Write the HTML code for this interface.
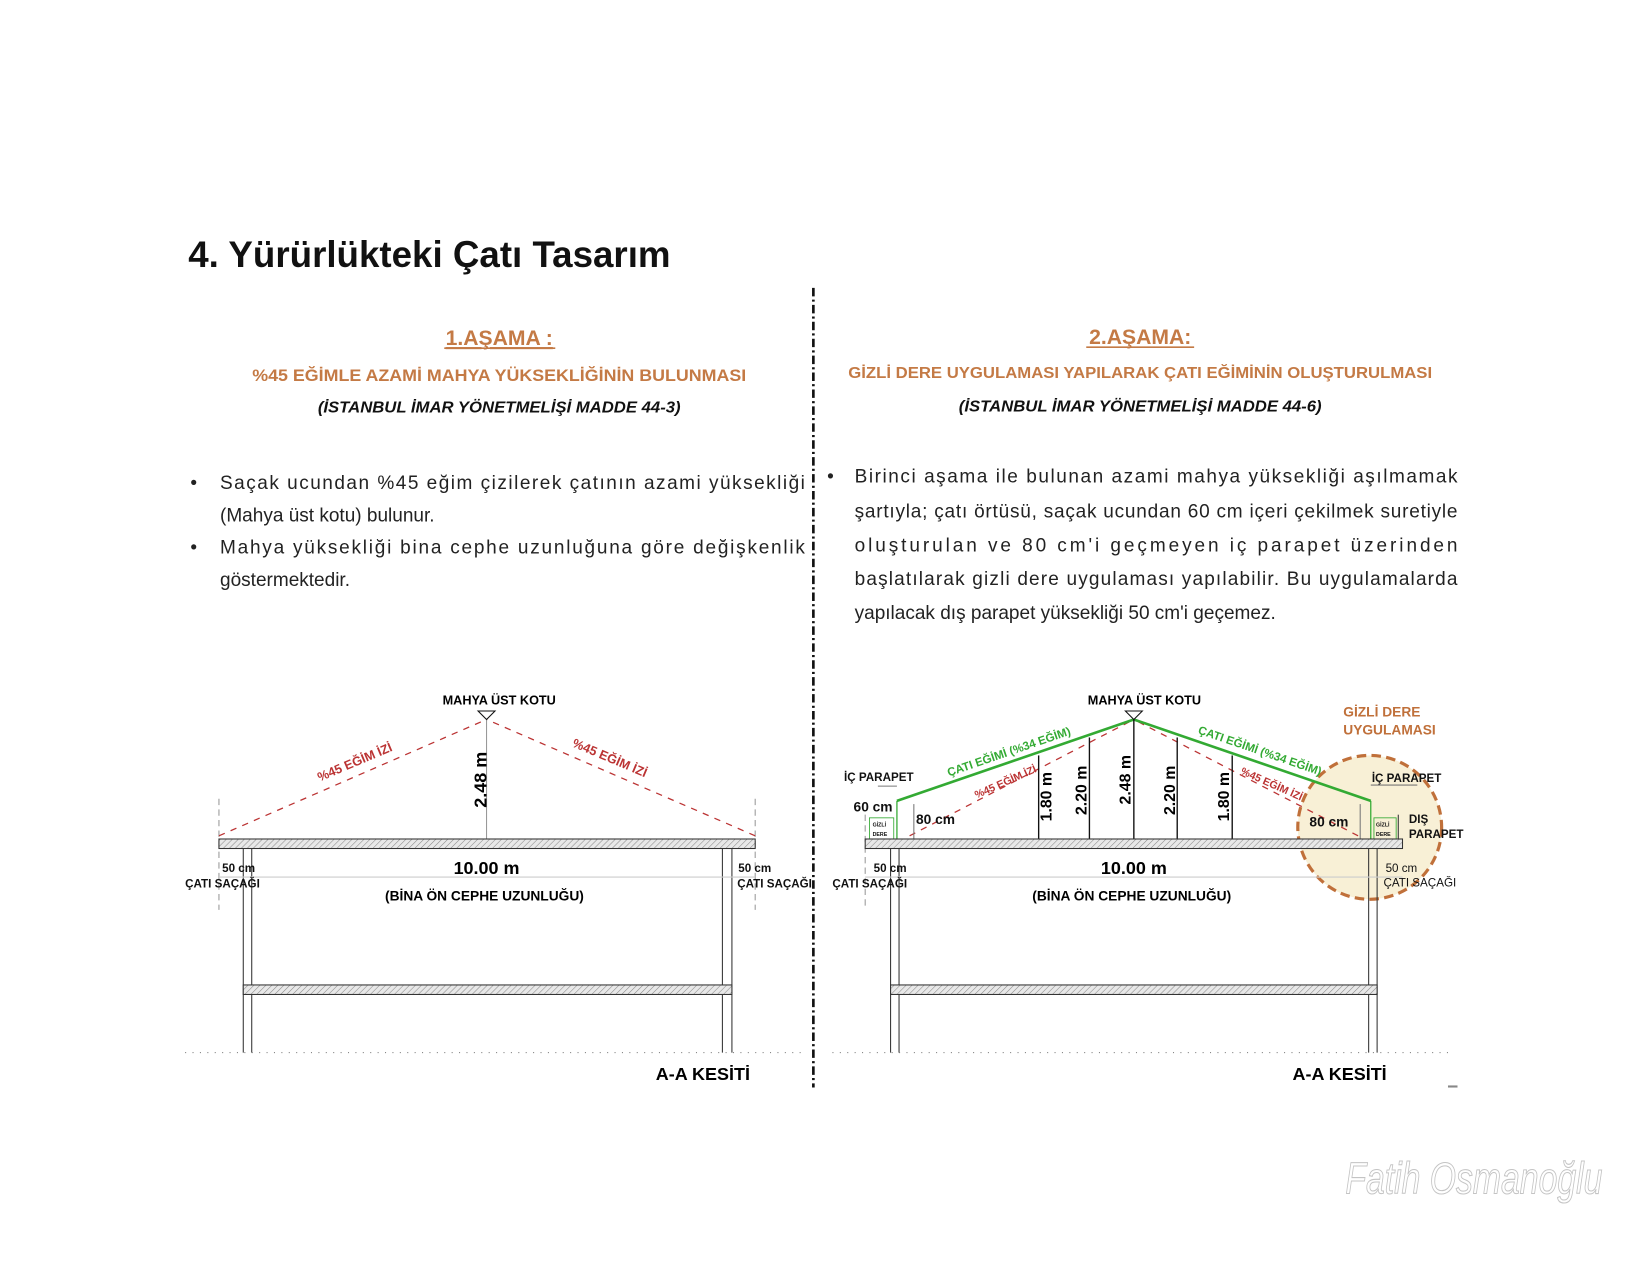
<!DOCTYPE html>
<html><head><meta charset="utf-8"><style>
html,body{margin:0;padding:0;background:#fff;}
svg{display:block;}
text{font-family:"Liberation Sans",sans-serif;}
</style></head><body>
<svg width="1650" height="1275" viewBox="0 0 1560 1205" xmlns="http://www.w3.org/2000/svg">
<defs>
<pattern id="h" width="4" height="4" patternUnits="userSpaceOnUse" patternTransform="rotate(45)"><rect width="4" height="4" fill="#e8e8e8"/><line x1="0" y1="0" x2="0" y2="4" stroke="#888" stroke-width="1"/></pattern>
</defs>
<rect width="1560" height="1205" fill="#fff"/>
<text x="178" y="252" font-size="35" font-weight="bold" fill="#111" textLength="456" lengthAdjust="spacingAndGlyphs">4. Yürürlükteki Çatı Tasarım</text>
<line x1="769" y1="272" x2="769" y2="1028" stroke="#111" stroke-width="2.5" stroke-dasharray="8,3,2,3"/>

<g fill="#c47a45" font-weight="bold" text-anchor="middle">
<text x="472" y="326" font-size="20" text-decoration="underline">1.AŞAMA :</text>
<line x1="420" y1="329" x2="525" y2="329" stroke="#c47a45" stroke-width="1.5"/>
<text x="472" y="360" font-size="16" textLength="467" lengthAdjust="spacingAndGlyphs">%45 EĞİMLE AZAMİ MAHYA YÜKSEKLİĞİNİN BULUNMASI</text>
<text x="1078" y="325" font-size="20">2.AŞAMA:</text>
<line x1="1027" y1="328" x2="1129" y2="328" stroke="#c47a45" stroke-width="1.5"/>
<text x="1078" y="357" font-size="15" textLength="552" lengthAdjust="spacingAndGlyphs">GİZLİ DERE UYGULAMASI YAPILARAK ÇATI EĞİMİNİN OLUŞTURULMASI</text>
</g>
<g fill="#111" font-weight="bold" font-style="italic" font-size="15" text-anchor="middle">
<text x="472" y="390" textLength="343" lengthAdjust="spacingAndGlyphs">(İSTANBUL İMAR YÖNETMELİŞİ MADDE 44-3)</text>
<text x="1078" y="389" textLength="343" lengthAdjust="spacingAndGlyphs">(İSTANBUL İMAR YÖNETMELİŞİ MADDE 44-6)</text>
</g>
<g fill="#222" font-size="18">
<text x="180" y="462">•</text>
<text x="208" y="462" textLength="553" lengthAdjust="spacing">Saçak ucundan %45 eğim çizilerek çatının azami yüksekliği</text>
<text x="208" y="493">(Mahya üst kotu) bulunur.</text>
<text x="180" y="523">•</text>
<text x="208" y="523" textLength="553" lengthAdjust="spacing">Mahya yüksekliği bina cephe uzunluğuna göre değişkenlik</text>
<text x="208" y="554">göstermektedir.</text>
<text x="782" y="456">•</text>
<text x="808" y="456" textLength="570" lengthAdjust="spacing">Birinci aşama ile bulunan azami mahya yüksekliği aşılmamak</text>
<text x="808" y="489" textLength="570" lengthAdjust="spacing">şartıyla; çatı örtüsü, saçak ucundan 60 cm içeri çekilmek suretiyle</text>
<text x="808" y="521" textLength="570" lengthAdjust="spacing">oluşturulan ve 80 cm'i geçmeyen iç parapet üzerinden</text>
<text x="808" y="553" textLength="570" lengthAdjust="spacing">başlatılarak gizli dere uygulaması yapılabilir. Bu uygulamalarda</text>
<text x="808" y="585">yapılacak dış parapet yüksekliği 50 cm'i geçemez.</text>
</g>

<g>
<line x1="207" y1="755" x2="207" y2="860" stroke="#999" stroke-dasharray="6,4"/>
<line x1="714" y1="755" x2="714" y2="860" stroke="#999" stroke-dasharray="6,4"/>
<line x1="207" y1="790" x2="460" y2="680" stroke="#b33" stroke-width="1.2" stroke-dasharray="6,6"/>
<line x1="714" y1="790" x2="460" y2="680" stroke="#b33" stroke-width="1.2" stroke-dasharray="6,6"/>
<line x1="460" y1="680" x2="460" y2="793" stroke="#999"/>
<polygon points="452,672 468,672 460,680" fill="#fff" stroke="#111"/>
<rect x="207" y="793" width="507" height="9" fill="url(#h)" stroke="#333"/>
<line x1="230" y1="802" x2="230" y2="995" stroke="#333"/><line x1="238" y1="802" x2="238" y2="995" stroke="#333"/>
<line x1="683" y1="802" x2="683" y2="995" stroke="#333"/><line x1="692" y1="802" x2="692" y2="995" stroke="#333"/>
<rect x="230" y="931" width="462" height="9" fill="url(#h)" stroke="#333"/>
<line x1="207" y1="829" x2="714" y2="829" stroke="#ccc"/>
<line x1="175" y1="995" x2="760" y2="995" stroke="#777" stroke-dasharray="1,6"/>
<text x="472" y="666" font-size="12" font-weight="bold" text-anchor="middle">MAHYA ÜST KOTU</text>
<text transform="translate(460,737) rotate(-90)" font-size="17" font-weight="bold" text-anchor="middle">2.48 m</text>
<text transform="translate(337,724) rotate(-23)" font-size="12" font-weight="bold" fill="#b33" text-anchor="middle">%45 EĞİM İZİ</text>
<text transform="translate(575,720) rotate(23)" font-size="12" font-weight="bold" fill="#b33" text-anchor="middle">%45 EĞİM İZİ</text>
<g font-size="11" font-weight="bold" fill="#111">
<text x="210" y="824">50 cm</text><text x="175" y="839">ÇATI SAÇAĞI</text>
<text x="698" y="824">50 cm</text><text x="697" y="839">ÇATI SAÇAĞI</text>
</g>
<text x="460" y="826" font-size="17" font-weight="bold" text-anchor="middle">10.00 m</text>
<text x="458" y="851" font-size="13" font-weight="bold" text-anchor="middle">(BİNA ÖN CEPHE UZUNLUĞU)</text>
<text x="620" y="1021" font-size="17" font-weight="bold">A-A KESİTİ</text>
</g>

<g>
<circle cx="1295" cy="782" r="68" fill="#f8f0d6" stroke="#c0703a" stroke-width="3" stroke-dasharray="9,5"/>
<line x1="818" y1="770" x2="818" y2="860" stroke="#999" stroke-dasharray="6,4"/>
<line x1="860" y1="790" x2="1072" y2="680" stroke="#b33" stroke-width="1.2" stroke-dasharray="6,6"/>
<line x1="1284" y1="790" x2="1072" y2="680" stroke="#b33" stroke-width="1.2" stroke-dasharray="6,6"/>
<line x1="848" y1="757" x2="1072" y2="680" stroke="#3a3" stroke-width="2.5"/>
<line x1="1296" y1="757" x2="1072" y2="680" stroke="#3a3" stroke-width="2.5"/>
<g stroke="#111" stroke-width="1.3">
<line x1="982" y1="714" x2="982" y2="793"/><line x1="1030" y1="697" x2="1030" y2="793"/>
<line x1="1072" y1="680" x2="1072" y2="793"/><line x1="1113" y1="697" x2="1113" y2="793"/>
<line x1="1165" y1="714" x2="1165" y2="793"/>
</g>
<line x1="864" y1="760" x2="864" y2="793" stroke="#777"/>
<line x1="1286" y1="760" x2="1286" y2="793" stroke="#777"/>
<polygon points="1064,672 1080,672 1072,680" fill="#fff" stroke="#111"/>
<line x1="848" y1="757" x2="848" y2="793" stroke="#3a3" stroke-width="1.2"/>
<line x1="1296" y1="757" x2="1296" y2="793" stroke="#3a3" stroke-width="1.2"/>
<rect x="822" y="773" width="23" height="20" fill="none" stroke="#3a3" stroke-width="0.8"/>
<rect x="1299" y="773" width="21" height="20" fill="none" stroke="#3a3" stroke-width="0.8"/>
<line x1="1322" y1="770" x2="1322" y2="793" stroke="#333"/>
<line x1="830" y1="743" x2="848" y2="743" stroke="#777"/>
<line x1="1296" y1="742" x2="1340" y2="742" stroke="#777"/>
<rect x="818" y="793" width="508" height="9" fill="url(#h)" stroke="#333"/>
<line x1="842" y1="802" x2="842" y2="995" stroke="#333"/><line x1="850" y1="802" x2="850" y2="995" stroke="#333"/>
<line x1="1294" y1="802" x2="1294" y2="995" stroke="#333"/><line x1="1302" y1="802" x2="1302" y2="995" stroke="#333"/>
<rect x="842" y="931" width="460" height="9" fill="url(#h)" stroke="#333"/>
<line x1="818" y1="829" x2="1326" y2="829" stroke="#ccc"/>
<line x1="787" y1="995" x2="1372" y2="995" stroke="#777" stroke-dasharray="1,6"/>
<text x="1082" y="666" font-size="12" font-weight="bold" text-anchor="middle">MAHYA ÜST KOTU</text>
<g font-size="15" font-weight="bold" text-anchor="middle">
<text transform="translate(994,753) rotate(-90)">1.80 m</text>
<text transform="translate(1027,747) rotate(-90)">2.20 m</text>
<text transform="translate(1069,737) rotate(-90)">2.48 m</text>
<text transform="translate(1111,747) rotate(-90)">2.20 m</text>
<text transform="translate(1162,753) rotate(-90)">1.80 m</text>
</g>
<text transform="translate(955,714) rotate(-19)" font-size="11" font-weight="bold" fill="#3a3" text-anchor="middle">ÇATI EĞİMİ (%34 EĞİM)</text>
<text transform="translate(1190,713) rotate(19)" font-size="11" font-weight="bold" fill="#3a3" text-anchor="middle">ÇATI EĞİMİ (%34 EĞİM)</text>
<text transform="translate(952,742) rotate(-24)" font-size="10" font-weight="bold" fill="#b33" text-anchor="middle">%45 EĞİM İZİ</text>
<text transform="translate(1201,744) rotate(24)" font-size="10" font-weight="bold" fill="#b33" text-anchor="middle">%45 EĞİM İZİ</text>
<g font-weight="bold" fill="#c0703a" font-size="13"><text x="1270" y="677">GİZLİ DERE</text><text x="1270" y="694">UYGULAMASI</text></g>
<g font-weight="bold" fill="#111">
<text x="798" y="738" font-size="11">İÇ PARAPET</text>
<text x="1297" y="739" font-size="11">İÇ PARAPET</text>
<text x="807" y="767" font-size="13">60 cm</text>
<text x="866" y="779" font-size="13">80 cm</text>
<text x="1238" y="781" font-size="13">80 cm</text>
<text x="1332" y="778" font-size="11">DIŞ</text>
<text x="1332" y="792" font-size="11">PARAPET</text>
<text x="826" y="824" font-size="11">50 cm</text><text x="787" y="839" font-size="11">ÇATI SAÇAĞI</text>
<text x="1310" y="824" font-size="11" font-weight="normal">50 cm</text><text x="1308" y="838" font-size="11" font-weight="normal">ÇATI SAÇAĞI</text>
<text x="825" y="781" font-size="5">GİZLİ</text><text x="825" y="790" font-size="5">DERE</text>
<text x="1301" y="781" font-size="5">GİZLİ</text><text x="1301" y="790" font-size="5">DERE</text>
</g>
<text x="1072" y="826" font-size="17" font-weight="bold" text-anchor="middle">10.00 m</text>
<text x="1070" y="851" font-size="13" font-weight="bold" text-anchor="middle">(BİNA ÖN CEPHE UZUNLUĞU)</text>
<text x="1222" y="1021" font-size="17" font-weight="bold">A-A KESİTİ</text>
<line x1="1369" y1="1027" x2="1378" y2="1027" stroke="#888" stroke-width="2"/>
</g>
<text x="1272" y="1128" font-family="Liberation Serif,serif" font-style="italic" font-size="42" fill="none" stroke="#c4c4c4" stroke-width="1" textLength="243" lengthAdjust="spacingAndGlyphs">Fatih Osmanoğlu</text>
</svg>
</body></html>
